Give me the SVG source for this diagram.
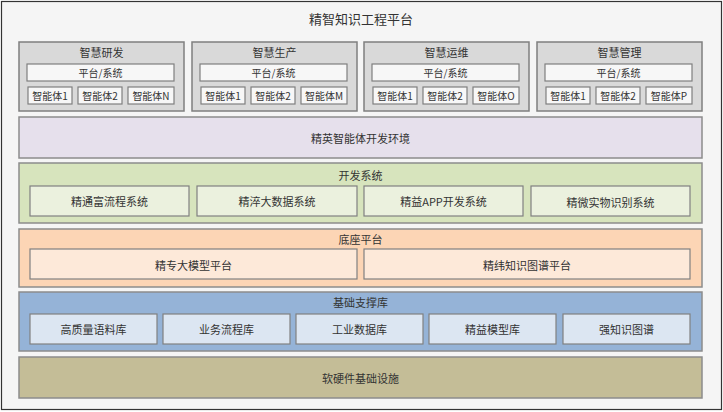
<svg xmlns="http://www.w3.org/2000/svg" width="723" height="412" viewBox="0 0 723 412">
<style>
text{font-family:"Noto Sans CJK SC","Microsoft YaHei",sans-serif;fill:#333;text-anchor:middle;dominant-baseline:central}
.t13{font-size:13px}
.t11{font-size:11px}
.t10{font-size:10px}
.layer{stroke:#8c8c8c;stroke-width:1.5}
.inner{stroke:#808080;stroke-width:1.2}
.gbox{fill:#d9d9d9;stroke:#7f7f7f;stroke-width:1.5}
.wbox{fill:#f7f7f7;stroke:#7f7f7f;stroke-width:1.2}
</style>
<rect x="1.5" y="1.5" width="720" height="408" fill="#f5f5f5" stroke="#333" stroke-width="1.2"/>
<text class="t13" x="361" y="18">精智知识工程平台</text>

<g id="app-rd">
<rect class="gbox" x="19" y="42" width="165" height="69"/>
<text class="t11" x="101.5" y="51.5">智慧研发</text>
<rect class="wbox" x="27" y="64" width="147" height="17"/>
<text class="t10" x="100.5" y="72.5">平台/系统</text>
<rect class="wbox" x="28" y="87" width="44" height="17"/><text class="t10" x="50" y="95.5">智能体1</text>
<rect class="wbox" x="78" y="87" width="44" height="17"/><text class="t10" x="100" y="95.5">智能体2</text>
<rect class="wbox" x="128" y="87" width="46" height="17"/><text class="t10" x="151" y="95.5">智能体N</text>
</g>
<g id="app-prod">
<rect class="gbox" x="192" y="42" width="165" height="69"/>
<text class="t11" x="274.5" y="51.5">智慧生产</text>
<rect class="wbox" x="200" y="64" width="147" height="17"/>
<text class="t10" x="273.5" y="72.5">平台/系统</text>
<rect class="wbox" x="201" y="87" width="44" height="17"/><text class="t10" x="223" y="95.5">智能体1</text>
<rect class="wbox" x="251" y="87" width="44" height="17"/><text class="t10" x="273" y="95.5">智能体2</text>
<rect class="wbox" x="301" y="87" width="46" height="17"/><text class="t10" x="324" y="95.5">智能体M</text>
</g>
<g id="app-ops">
<rect class="gbox" x="364" y="42" width="165" height="69"/>
<text class="t11" x="446.5" y="51.5">智慧运维</text>
<rect class="wbox" x="372" y="64" width="147" height="17"/>
<text class="t10" x="445.5" y="72.5">平台/系统</text>
<rect class="wbox" x="373" y="87" width="44" height="17"/><text class="t10" x="395" y="95.5">智能体1</text>
<rect class="wbox" x="423" y="87" width="44" height="17"/><text class="t10" x="445" y="95.5">智能体2</text>
<rect class="wbox" x="473" y="87" width="46" height="17"/><text class="t10" x="496" y="95.5">智能体O</text>
</g>
<g id="app-mgmt">
<rect class="gbox" x="537" y="42" width="165" height="69"/>
<text class="t11" x="619.5" y="51.5">智慧管理</text>
<rect class="wbox" x="545" y="64" width="147" height="17"/>
<text class="t10" x="618.5" y="72.5">平台/系统</text>
<rect class="wbox" x="546" y="87" width="44" height="17"/><text class="t10" x="568" y="95.5">智能体1</text>
<rect class="wbox" x="596" y="87" width="44" height="17"/><text class="t10" x="618" y="95.5">智能体2</text>
<rect class="wbox" x="646" y="87" width="46" height="17"/><text class="t10" x="669" y="95.5">智能体P</text>
</g>

<g id="agent-env">
<rect class="layer" x="19" y="117" width="683" height="41" fill="#e6e0ec"/>
<text class="t11" x="360.5" y="138">精英智能体开发环境</text>
</g>

<g id="dev-system">
<rect class="layer" x="19" y="163" width="683" height="60" fill="#d7e4bd"/>
<text class="t11" x="360.5" y="175">开发系统</text>
<rect class="inner" x="30" y="186" width="159" height="30" fill="#ebf1de"/><text class="t11" x="109.5" y="201">精通富流程系统</text>
<rect class="inner" x="197" y="186" width="160" height="30" fill="#ebf1de"/><text class="t11" x="277" y="201">精淬大数据系统</text>
<rect class="inner" x="364" y="186" width="159" height="30" fill="#ebf1de"/><text class="t11" x="443.5" y="201">精益APP开发系统</text>
<rect class="inner" x="531" y="186" width="159" height="30" fill="#ebf1de"/><text class="t11" x="610.5" y="202">精微实物识别系统</text>
</g>

<g id="base-platform">
<rect class="layer" x="19" y="229" width="683" height="58" fill="#fcd5b5"/>
<text class="t11" x="360.5" y="239">底座平台</text>
<rect class="inner" x="30" y="249" width="327" height="30" fill="#fde9d9"/><text class="t11" x="193.5" y="265">精专大模型平台</text>
<rect class="inner" x="364" y="249" width="326" height="30" fill="#fde9d9"/><text class="t11" x="527" y="265">精纬知识图谱平台</text>
</g>

<g id="support-lib">
<rect class="layer" x="19" y="292" width="683" height="59" fill="#95b3d7"/>
<text class="t11" x="360.5" y="302">基础支撑库</text>
<rect class="inner" x="30" y="314" width="127" height="30" fill="#dce6f2"/><text class="t11" x="93.5" y="329">高质量语料库</text>
<rect class="inner" x="163" y="314" width="127" height="30" fill="#dce6f2"/><text class="t11" x="226.5" y="329">业务流程库</text>
<rect class="inner" x="296" y="314" width="127" height="30" fill="#dce6f2"/><text class="t11" x="359.5" y="329">工业数据库</text>
<rect class="inner" x="429" y="314" width="127" height="30" fill="#dce6f2"/><text class="t11" x="492.5" y="329">精益模型库</text>
<rect class="inner" x="563" y="314" width="127" height="30" fill="#dce6f2"/><text class="t11" x="626.5" y="329">强知识图谱</text>
</g>

<g id="infra">
<rect class="layer" x="19" y="357" width="683" height="41" fill="#c4bd97"/>
<text class="t11" x="360.5" y="378">软硬件基础设施</text>
</g>

<g id="connectors"></g>
</svg>
